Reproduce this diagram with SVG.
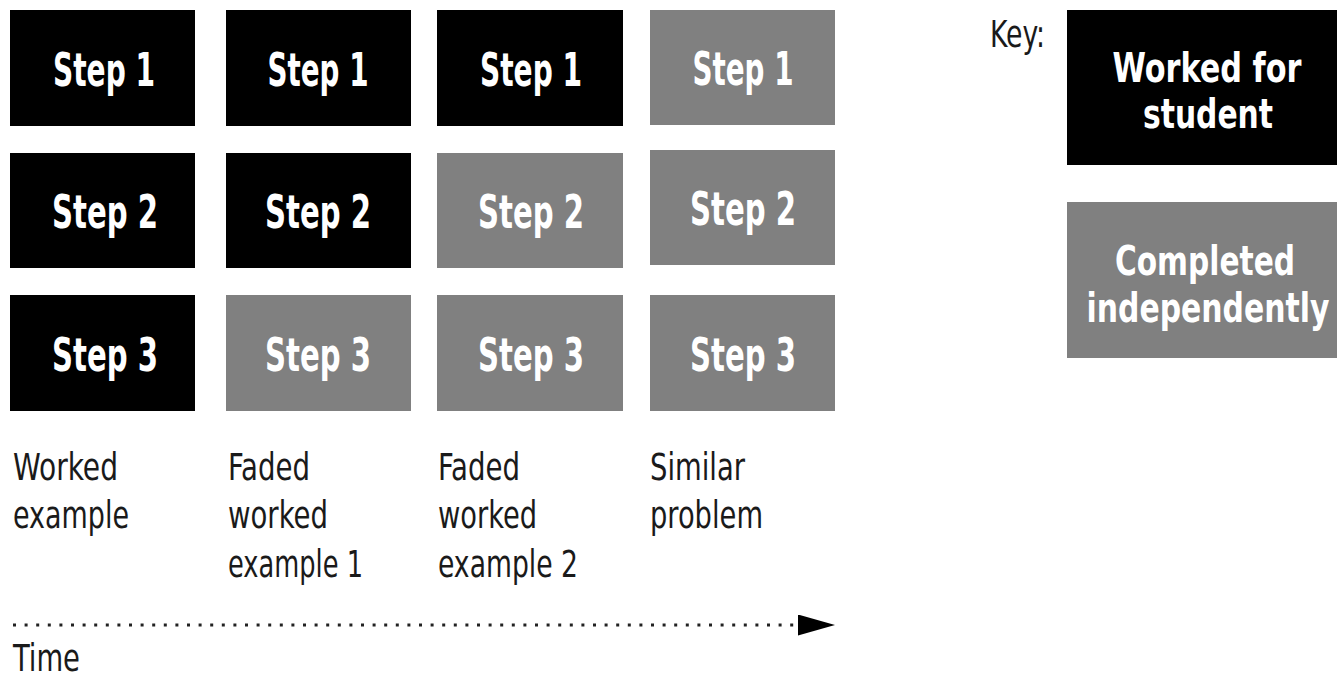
<svg xmlns="http://www.w3.org/2000/svg" width="1337" height="676" viewBox="0 0 1337 676">
  <style>
    .worked { fill: #000000; }
    .indep { fill: #808080; }
    .step { font-family: 'DejaVu Sans Condensed', 'DejaVu Sans', sans-serif; font-stretch: condensed; font-weight: bold; font-size: 46px; fill: #ffffff; text-anchor: middle; }
    .keytxt { font-family: 'DejaVu Sans Condensed', 'DejaVu Sans', sans-serif; font-stretch: condensed; font-weight: bold; font-size: 41px; fill: #ffffff; text-anchor: middle; }
    .label { font-family: 'DejaVu Sans Condensed', 'DejaVu Sans', sans-serif; font-stretch: condensed; font-size: 37px; fill: #1a1a1a; }
  </style>
  <defs>
    <marker id="arrowhead" markerWidth="37" markerHeight="21" refX="37" refY="10.5" markerUnits="userSpaceOnUse" orient="auto">
      <path d="M0,0 L37,10.5 L0,21 Z" fill="#000000"/>
    </marker>
  </defs>
  <rect width="1337" height="676" fill="#ffffff"/>

  <!-- Column 1: worked example -->
  <g id="col1-step1"><rect class="worked" x="10" y="10" width="185" height="116"/><text class="step" x="104" y="86" textLength="102" lengthAdjust="spacingAndGlyphs">Step 1</text></g>
  <g id="col1-step2"><rect class="worked" x="10" y="153" width="185" height="115"/><text class="step" x="105" y="228" textLength="106" lengthAdjust="spacingAndGlyphs">Step 2</text></g>
  <g id="col1-step3"><rect class="worked" x="10" y="295" width="185" height="116"/><text class="step" x="105" y="371" textLength="106" lengthAdjust="spacingAndGlyphs">Step 3</text></g>

  <!-- Column 2: faded worked example 1 -->
  <g id="col2-step1"><rect class="worked" x="226" y="10" width="185" height="116"/><text class="step" x="318" y="86" textLength="101" lengthAdjust="spacingAndGlyphs">Step 1</text></g>
  <g id="col2-step2"><rect class="worked" x="226" y="153" width="185" height="115"/><text class="step" x="318" y="228" textLength="106" lengthAdjust="spacingAndGlyphs">Step 2</text></g>
  <g id="col2-step3"><rect class="indep" x="226" y="295" width="185" height="116"/><text class="step" x="318" y="371" textLength="106" lengthAdjust="spacingAndGlyphs">Step 3</text></g>

  <!-- Column 3: faded worked example 2 -->
  <g id="col3-step1"><rect class="worked" x="437" y="10" width="186" height="116"/><text class="step" x="531" y="86" textLength="102" lengthAdjust="spacingAndGlyphs">Step 1</text></g>
  <g id="col3-step2"><rect class="indep" x="437" y="153" width="186" height="115"/><text class="step" x="531" y="228" textLength="106" lengthAdjust="spacingAndGlyphs">Step 2</text></g>
  <g id="col3-step3"><rect class="indep" x="437" y="295" width="186" height="116"/><text class="step" x="531" y="371" textLength="106" lengthAdjust="spacingAndGlyphs">Step 3</text></g>

  <!-- Column 4: similar problem -->
  <g id="col4-step1"><rect class="indep" x="650" y="10" width="185" height="115"/><text class="step" x="743" y="85" textLength="101" lengthAdjust="spacingAndGlyphs">Step 1</text></g>
  <g id="col4-step2"><rect class="indep" x="650" y="150" width="185" height="115"/><text class="step" x="743" y="225" textLength="106" lengthAdjust="spacingAndGlyphs">Step 2</text></g>
  <g id="col4-step3"><rect class="indep" x="650" y="295" width="185" height="116"/><text class="step" x="743" y="371" textLength="106" lengthAdjust="spacingAndGlyphs">Step 3</text></g>

  <!-- Column captions -->
  <g id="caption1">
    <text class="label" x="13" y="480" textLength="105" lengthAdjust="spacingAndGlyphs">Worked</text>
    <text class="label" x="13" y="528" textLength="116" lengthAdjust="spacingAndGlyphs">example</text>
  </g>
  <g id="caption2">
    <text class="label" x="228" y="480" textLength="82" lengthAdjust="spacingAndGlyphs">Faded</text>
    <text class="label" x="228" y="528" textLength="100" lengthAdjust="spacingAndGlyphs">worked</text>
    <text class="label" x="228" y="577" textLength="135" lengthAdjust="spacingAndGlyphs">example 1</text>
  </g>
  <g id="caption3">
    <text class="label" x="438" y="480" textLength="82" lengthAdjust="spacingAndGlyphs">Faded</text>
    <text class="label" x="438" y="528" textLength="99" lengthAdjust="spacingAndGlyphs">worked</text>
    <text class="label" x="438" y="577" textLength="140" lengthAdjust="spacingAndGlyphs">example 2</text>
  </g>
  <g id="caption4">
    <text class="label" x="650" y="480" textLength="95" lengthAdjust="spacingAndGlyphs">Similar</text>
    <text class="label" x="650" y="528" textLength="113" lengthAdjust="spacingAndGlyphs">problem</text>
  </g>

  <!-- Time axis -->
  <g id="connectors">
    <line x1="13" y1="625" x2="835" y2="625" stroke="#222222" stroke-width="3" stroke-dasharray="3 8.6" marker-end="url(#arrowhead)"/>
  </g>
  <g id="time-label">
    <text class="label" x="13" y="671" textLength="67" lengthAdjust="spacingAndGlyphs">Time</text>
  </g>

  <!-- Legend -->
  <g id="key-title">
    <text class="label" x="990" y="47" font-size="34" textLength="55" lengthAdjust="spacingAndGlyphs">Key:</text>
  </g>
  <g id="key-worked">
    <rect class="worked" x="1067" y="10" width="270" height="155"/>
    <text class="keytxt" x="1207" y="82" textLength="189" lengthAdjust="spacingAndGlyphs">Worked for</text>
    <text class="keytxt" x="1208" y="128" textLength="130" lengthAdjust="spacingAndGlyphs">student</text>
  </g>
  <g id="key-independent">
    <rect class="indep" x="1067" y="202" width="270" height="156"/>
    <text class="keytxt" x="1205" y="275" textLength="180" lengthAdjust="spacingAndGlyphs">Completed</text>
    <text class="keytxt" x="1208" y="322" textLength="243" lengthAdjust="spacingAndGlyphs">independently</text>
  </g>
</svg>
